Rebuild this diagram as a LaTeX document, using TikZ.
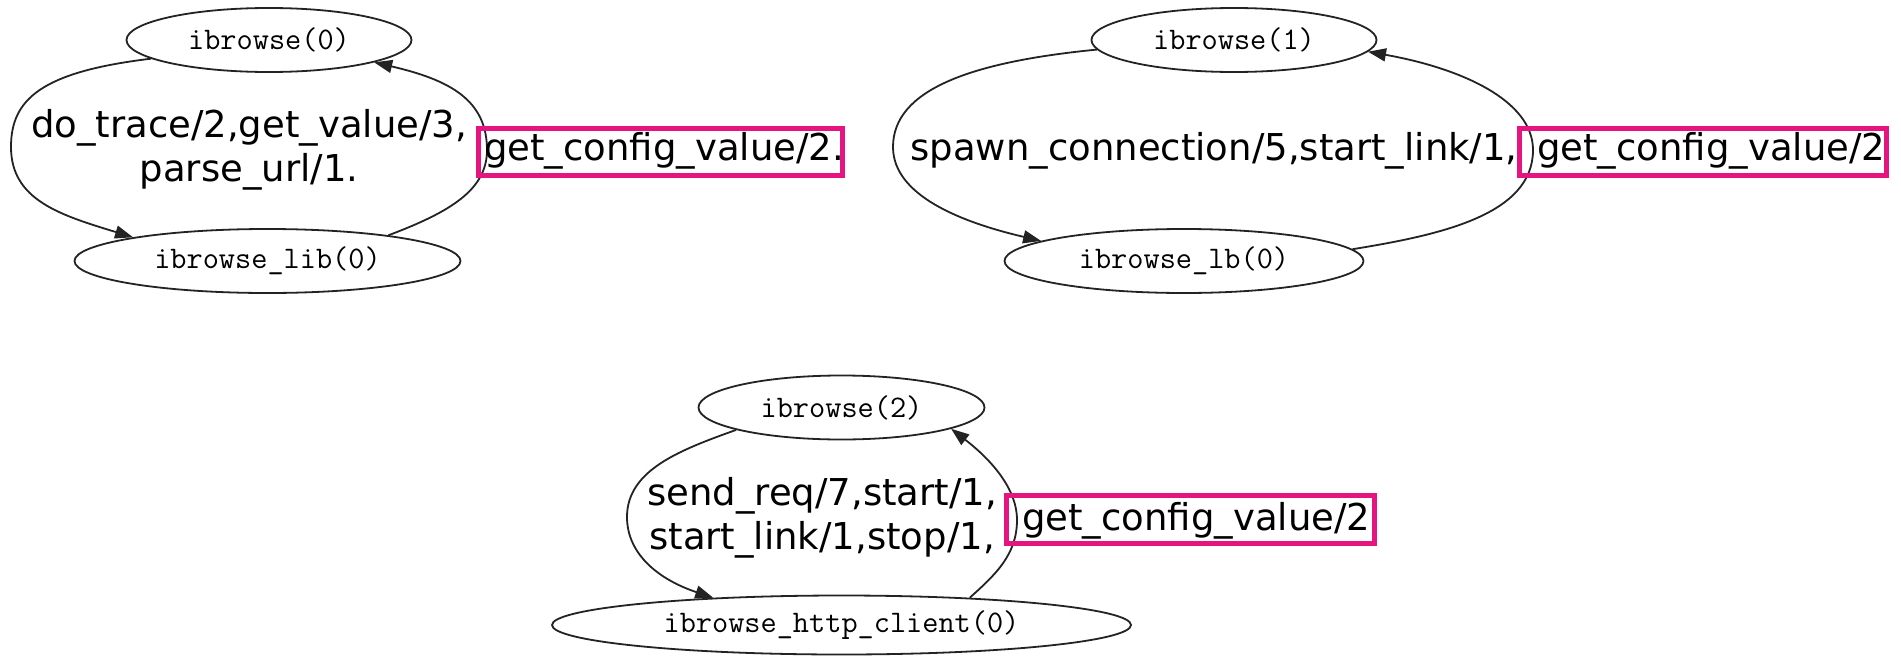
\documentclass[tikz,border=0pt]{standalone}
\usepackage{fontspec}
\usetikzlibrary{arrows.meta,shapes.geometric}
\newfontfamily\lblfont{DejaVu Sans}
\definecolor{hilite}{RGB}{229,20,128}
\definecolor{ink}{RGB}{35,35,35}
\tikzset{
  proc/.style={ellipse, draw=ink, line width=1.8pt, inner sep=0pt,
    font=\ttfamily\fontsize{31.4}{36}\selectfont},
  call/.style={draw=ink, line width=1.8pt, -{Triangle[length=18pt,width=13pt]}},
  lbl/.style={inner sep=0pt, anchor=base, font=\lblfont\fontsize{37}{44}\selectfont},
  hitext/.style={inner sep=0pt, anchor=base west, font=\lblfont\fontsize{37}{44}\selectfont},
  hibox/.style={draw=hilite, line width=5pt},
}
\begin{document}
\begin{tikzpicture}[x=1pt,y=-1pt]
\useasboundingbox (0,0) rectangle (1901,656);
\fill[white] (0,0) rectangle (1901,656);

% processes
\node[proc, minimum width=285pt, minimum height=64pt] (a0) at (269,40) {ibrowse(0)};
\node[proc, minimum width=386pt, minimum height=64pt] (l0) at (267.5,261) {ibrowse\_lib(0)};
\node[proc, minimum width=285pt, minimum height=64pt] (a1) at (1234,40) {ibrowse(1)};
\node[proc, minimum width=359pt, minimum height=64pt] (l1) at (1184,261) {ibrowse\_lb(0)};
\node[proc, minimum width=286pt, minimum height=64pt] (a2) at (841.5,407.5) {ibrowse(2)};
\node[proc, minimum width=579pt, minimum height=59pt] (l2) at (841.5,625) {ibrowse\_http\_client(0)};

% calls between processes
\draw[call] (a0.189) .. controls (40,72) and (11,100) .. (11,147)
                     .. controls (11,200) and (60,215) .. (l0.170);
\draw[call] (l0.12.5) .. controls (450,212) and (487,190) .. (487,150)
                      .. controls (487,100) and (450,80) .. (a0.-12);

\draw[call] (a1.184) .. controls (970,62) and (893,90) .. (893,147)
                     .. controls (893,195) and (960,222) .. (l1.172.6);
\draw[call] (l1.4.7) .. controls (1440,235) and (1533,215) .. (1533,150)
                     .. controls (1533,100) and (1460,68) .. (a1.-5.2);

\draw[call] (a2.192) .. controls (680,450) and (627,470) .. (627,517)
                     .. controls (627,555) and (660,580) .. (l2.168.3);
\draw[call] (l2.12.6) .. controls (995,575) and (1017,555) .. (1017,520)
                      .. controls (1017,485) and (985,455) .. (a2.-11.6);

% call labels
\node[lbl] (t0) at (249,137) {\begin{tabular}[t]{@{}c@{}}do\_trace/2,get\_value/3,\\parse\_url/1.\end{tabular}};
\node[lbl] (t1) at (1214,160) {spawn\_connection/5,start\_link/1,};
\node[lbl] (t2) at (822,505) {\begin{tabular}[t]{@{}c@{}}send\_req/7,start/1,\\start\_link/1,stop/1,\end{tabular}};

% highlighted calls
\node[hitext] (g0) at (484,160) {get\_config\_value/2.};
\draw[hibox] (478.5,128.5) rectangle (842.5,175.5);
\node[hitext] (g1) at (1537,160) {get\_config\_value/2};
\draw[hibox] (1519.5,128.5) rectangle (1886.5,175.5);
\node[hitext] (g2) at (1022,530) {get\_config\_value/2};
\draw[hibox] (1006.5,495.5) rectangle (1374.5,543.5);
\end{tikzpicture}
\end{document}
